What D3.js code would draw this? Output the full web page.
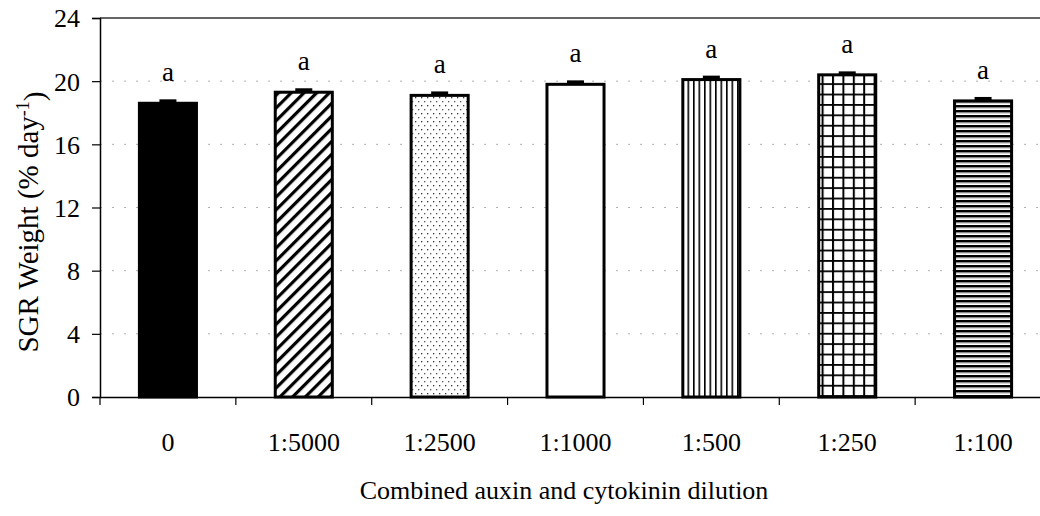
<!DOCTYPE html>
<html>
<head>
<meta charset="utf-8">
<script src="https://cdn.jsdelivr.net/npm/d3@7"></script>
<style>
  body { margin: 0; background: #fff; }
  svg text { font-family: "Liberation Serif", "Times New Roman", serif; fill: #000; }
</style>
</head>
<body>
<svg id="chart" width="1040" height="516"></svg>
<script>
const categories = ["0", "1:5000", "1:2500", "1:1000", "1:500", "1:250", "1:100"];
const sgrValues = [18.6, 19.3, 19.1, 19.8, 20.1, 20.4, 18.75];
const sgrErrors = [0.25, 0.25, 0.25, 0.25, 0.25, 0.22, 0.25];
const letters = ["a", "a", "a", "a", "a", "a", "a"];
const patterns = ["solid", "diag", "dots", "none", "vert", "grid", "horiz"];
const yTicks = [0, 4, 8, 12, 16, 20, 24];

const svg = d3.select("#chart");
const margin = { top: 18, left: 100, bottom: 119 };
const height = 516;
const plotRight = 1051;

const x = d3.scaleBand()
    .domain(categories)
    .range([margin.left, plotRight])
    .paddingInner(0.58)
    .paddingOuter(0.29);

const y = d3.scaleLinear()
    .domain([0, 24])
    .range([height - margin.bottom, margin.top]);

// patterns
const defs = svg.append("defs");
const addPattern = (id, w, h, draw) => {
    const p = defs.append("pattern")
        .attr("id", id)
        .attr("patternUnits", "userSpaceOnUse")
        .attr("width", w)
        .attr("height", h);
    p.append("rect").attr("width", w).attr("height", h).attr("fill", "#fff");
    draw(p);
};
addPattern("diag", 9, 9, (p) => {
    p.attr("patternTransform", "rotate(45)");
    p.append("rect").attr("x", 0).attr("y", 0).attr("width", 3.2).attr("height", 9).attr("fill", "#000");
});
addPattern("dots", 6, 8, (p) => {
    p.append("rect").attr("x", 1).attr("y", 1).attr("width", 1.3).attr("height", 1.3).attr("fill", "#333");
    p.append("rect").attr("x", 4).attr("y", 5).attr("width", 1.3).attr("height", 1.3).attr("fill", "#555");
});
addPattern("vert", 5.5, 10, (p) => {
    p.append("rect").attr("x", 0).attr("y", 0).attr("width", 1.6).attr("height", 10).attr("fill", "#000");
});
addPattern("grid", 10.4, 10.4, (p) => {
    p.append("rect").attr("x", 0).attr("y", 0).attr("width", 2).attr("height", 10.4).attr("fill", "#000");
    p.append("rect").attr("x", 0).attr("y", 0).attr("width", 10.4).attr("height", 1.8).attr("fill", "#000");
});
addPattern("horiz", 10, 5, (p) => {
    p.append("rect").attr("x", 0).attr("y", 0).attr("width", 10).attr("height", 2.6).attr("fill", "#000");
    p.append("rect").attr("x", 0).attr("y", 2.6).attr("width", 10).attr("height", 1).attr("fill", "#bbb");
});

const fillFor = (p) => {
    if (p === "solid") return "#000";
    if (p === "none") return "#fff";
    return `url(#${p})`;
};

// gridlines
svg.append("g")
    .selectAll("line")
    .data(yTicks.filter((t) => t > 0 && t < 24))
    .join("line")
    .attr("x1", margin.left)
    .attr("x2", plotRight)
    .attr("y1", (d) => y(d))
    .attr("y2", (d) => y(d))
    .attr("stroke", "#b0b0b0")
    .attr("stroke-width", 1)
    .attr("stroke-dasharray", "2,10");

// top border
svg.append("line")
    .attr("x1", margin.left)
    .attr("x2", plotRight)
    .attr("y1", y(24))
    .attr("y2", y(24))
    .attr("stroke", "#333")
    .attr("stroke-width", 1.5);

// bars
const data = categories.map((c, i) => ({
    cat: c, v: sgrValues[i], e: sgrErrors[i], lab: letters[i], pat: patterns[i]
}));

const bars = svg.append("g");
bars.selectAll("rect.bar")
    .data(data)
    .join("rect")
    .attr("class", "bar")
    .attr("x", (d) => x(d.cat))
    .attr("y", (d) => y(d.v))
    .attr("width", x.bandwidth())
    .attr("height", (d) => y(0) - y(d.v))
    .attr("fill", (d) => fillFor(d.pat))
    .attr("stroke", "#000")
    .attr("stroke-width", 3);

// error bars
const cx = (d) => x(d.cat) + x.bandwidth() / 2;
bars.selectAll("rect.err")
    .data(data)
    .join("rect")
    .attr("class", "err")
    .attr("x", (d) => cx(d) - 8.5)
    .attr("y", (d) => y(d.v + d.e))
    .attr("width", 17)
    .attr("height", (d) => y(d.v) - y(d.v + d.e))
    .attr("fill", "#000");

// letters
bars.selectAll("text.sig")
    .data(data)
    .join("text")
    .attr("class", "sig")
    .attr("x", cx)
    .attr("y", (d) => y(d.v + d.e) - 18)
    .attr("text-anchor", "middle")
    .style("font-size", "27px")
    .text((d) => d.lab);

// y axis
const yAxis = d3.axisLeft(y).tickValues(yTicks).tickSize(8).tickPadding(12);
svg.append("g")
    .attr("transform", `translate(${margin.left},0)`)
    .call(yAxis)
    .call((g) => g.select(".domain").attr("stroke", "#000").attr("stroke-width", 1.5))
    .call((g) => g.selectAll(".tick line").attr("stroke", "#000").attr("stroke-width", 1.2))
    .call((g) => g.selectAll("text").style("font-size", "26px").attr("dy", "0.34em"));

// x axis
const xAxis = d3.axisBottom(x).tickSize(0).tickPadding(36);
svg.append("g")
    .attr("transform", `translate(0,${y(0)})`)
    .call(xAxis)
    .call((g) => g.select(".domain").attr("stroke", "#000").attr("stroke-width", 1.5))
    .call((g) => g.selectAll("text").style("font-size", "26px"));

// x boundary ticks
const step = x.step();
svg.append("g")
    .selectAll("line")
    .data(d3.range(categories.length + 1))
    .join("line")
    .attr("x1", (i) => margin.left + i * step)
    .attr("x2", (i) => margin.left + i * step)
    .attr("y1", y(0))
    .attr("y2", y(0) + 8)
    .attr("stroke", "#000")
    .attr("stroke-width", 1.2);

// axis titles
svg.append("text")
    .attr("x", 564)
    .attr("y", 499)
    .attr("text-anchor", "middle")
    .style("font-size", "26px")
    .text("Combined auxin and cytokinin dilution");

const yTitle = svg.append("text")
    .attr("transform", `translate(38,222) rotate(-90)`)
    .attr("text-anchor", "middle")
    .style("font-size", "29px");
yTitle.append("tspan").text("SGR Weight (% day");
yTitle.append("tspan").attr("dy", "-0.5em").style("font-size", "18px").text("-1");
yTitle.append("tspan").attr("dy", "0.5em").text(")");
</script>
</body>
</html>
